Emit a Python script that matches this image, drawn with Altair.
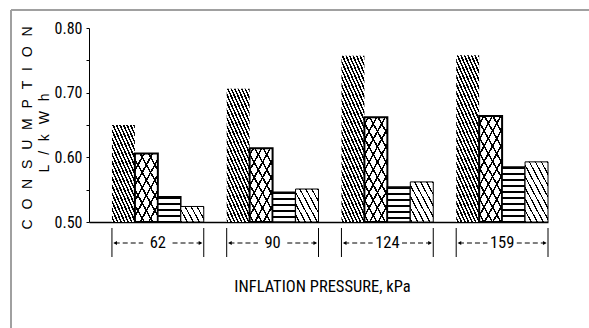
import json
import math

import altair as alt
import pandas as pd

# ---- data -------------------------------------------------------------
groups = ["62", "90", "124", "159"]          # inflation pressure, kPa
series = ["A", "B", "C", "D"]
series_a = [0.650, 0.706, 0.757, 0.758]
series_b = [0.606, 0.614, 0.662, 0.664]
series_c = [0.539, 0.546, 0.554, 0.585]
series_d = [0.524, 0.551, 0.562, 0.593]
y_ticks = [0.50, 0.55, 0.60, 0.65, 0.70, 0.75, 0.80]
y_labels = ["0.50", "0.60", "0.70", "0.80"]

# ---- geometry ---------------------------------------------------------
W, H = 459, 194
PAD = {"left": 89, "top": 28, "right": 41, "bottom": 106}
Y_MIN, Y_MAX = 0.50, 0.80
PAD_INNER, PAD_OUTER = 0.2, 0.1

NARROW = "'Liberation Sans Narrow', 'Roboto Condensed', 'DejaVu Sans Condensed', 'Liberation Sans', sans-serif"
SANS = "'Liberation Sans', sans-serif"

values = {"A": series_a, "B": series_b, "C": series_c, "D": series_d}
df = pd.DataFrame(
    [{"group": g, "series": s, "value": v}
     for s in series for g, v in zip(groups, values[s])]
)
gdf = pd.DataFrame({"group": groups})
one = pd.DataFrame({"k": [0]})

step = W / (len(groups) - PAD_INNER + 2 * PAD_OUTER)
bar_w = step * (1 - PAD_INNER) / len(series)


def bar_h(v):
    return (v - Y_MIN) / (Y_MAX - Y_MIN) * H


def hatch(w, h, angle, period, lw, paper):
    """Linear gradient (bounding-box units) that paints parallel stripes."""
    t = math.radians(angle)
    dx, dy = math.cos(t), math.sin(t)
    nx, ny = -dy, dx
    extent = w * abs(nx) + h * abs(ny)
    k = extent / (nx * nx * w * w + ny * ny * h * h)
    x1 = 0.0 if nx >= 0 else 1.0
    y1 = 0.0 if ny >= 0 else 1.0
    x2 = x1 + k * nx * w
    y2 = y1 + k * ny * h
    n = extent / period
    stops = []
    i = 0
    while i / n < 1:
        a = i / n
        b = min((i + lw / period) / n, 1.0)
        c = min((i + 1) / n, 1.0)
        stops += [
            {"offset": a, "color": "black"},
            {"offset": b, "color": "black"},
            {"offset": b, "color": paper},
            {"offset": c, "color": paper},
        ]
        i += 1
    return {"gradient": "linear", "x1": x1, "y1": y1, "x2": x2, "y2": y2,
            "stops": stops}


# hatch layers per series: (angle, period, line width)
styles = {
    "A": {"hatch": [(66, 3.2, 1.5)], "stroke": 0},
    "B": {"hatch": [(61, 7.4, 1.5), (119, 7.4, 1.5)], "stroke": 2},
    "C": {"hatch": [(0, 6.0, 2.0)], "stroke": 1.5},
    "D": {"hatch": [(62, 5.3, 1.2)], "stroke": 1},
}

# ---- shared encodings ---------------------------------------------------
x_scale = alt.Scale(paddingInner=PAD_INNER, paddingOuter=PAD_OUTER, align=1)
x_axis = alt.Axis(
    title="INFLATION PRESSURE, kPa", labels=False, ticks=False, grid=False,
    domain=True, domainColor="black", domainWidth=1.5,
    titleFont=NARROW, titleFontSize=16.5, titleFontWeight="normal",
    titleColor="black", titlePadding=56, titleX=233, titleAlign="center",
)
y_axis = alt.Axis(
    title=None, values=y_ticks, format=".2f",
    labelExpr="indexof(" + json.dumps(y_labels) + ", datum.label) >= 0 ? datum.label : ''",
    grid=False, tickSize=3, tickColor="black", domainColor="black",
    labelFont=NARROW, labelFontSize=16, labelColor="black", labelPadding=4,
)


def xenc(pos=None):
    kw = {"sort": groups, "scale": x_scale, "axis": x_axis}
    if pos is not None:
        kw["bandPosition"] = pos
    return alt.X("group:N", **kw)


yenc = alt.Y("value:Q", scale=alt.Scale(domain=[Y_MIN, Y_MAX], zero=False, nice=False),
             axis=y_axis)
xoff = alt.XOffset("series:N", sort=series,
                   scale=alt.Scale(paddingInner=0, paddingOuter=0))

# ---- hatched bars -------------------------------------------------------
layers = []
for s in series:
    st = styles[s]
    for g, v in zip(groups, values[s]):
        for li, (ang, per, lw) in enumerate(st["hatch"]):
            paper = "white" if li == 0 else "rgba(255,255,255,0)"
            mark = {"fill": hatch(bar_w, bar_h(v), ang, per, lw, paper)}
            if li == len(st["hatch"]) - 1 and st["stroke"]:
                mark.update(stroke="black", strokeWidth=st["stroke"])
            layers.append(
                alt.Chart(df)
                .transform_filter(f"datum.group === '{g}' && datum.series === '{s}'")
                .mark_bar(**mark)
                .encode(x=xenc(), xOffset=xoff, y=yenc, y2=alt.datum(Y_MIN))
            )

# ---- range brackets under each pressure ---------------------------------
BR_TOP, BR_BOT, BR_MID = 200, 229, 215
for pos in (0.0, 1.0):
    layers.append(
        alt.Chart(gdf).mark_rule(color="black", strokeWidth=1)
        .encode(x=xenc(pos), y=alt.value(BR_TOP), y2=alt.value(BR_BOT))
    )
for a, b in ((0.03, 0.34), (0.66, 0.97)):
    layers.append(
        alt.Chart(gdf).mark_rule(color="black", strokeWidth=1, strokeDash=[5, 3])
        .encode(x=xenc(a), x2=alt.X2("group:N", bandPosition=b), y=alt.value(BR_MID))
    )
for pos, shape in ((0.035, "triangle-left"), (0.965, "triangle-right")):
    layers.append(
        alt.Chart(gdf).mark_point(shape=shape, filled=True, color="black", size=18, opacity=1)
        .encode(x=xenc(pos), y=alt.value(BR_MID))
    )
layers.append(
    alt.Chart(gdf).mark_text(font=NARROW, fontSize=16.5, color="black", baseline="middle")
    .encode(x=xenc(0.5), y=alt.value(BR_MID), text="group:N")
)

# ---- y title (two letter-spaced lines) ----------------------------------
GAP = "\u2002\u2009"
for txt, xpx, ypx in (("CONSUMPTION", 28, 100), ("L/kWh", 45, 105)):
    layers.append(
        alt.Chart(one).mark_text(angle=270, font=SANS, fontSize=14, color="black",
                                 align="center", baseline="middle")
        .encode(x=alt.value(xpx - PAD["left"]), y=alt.value(ypx),
                text=alt.value(GAP.join(txt)))
    )

# ---- frame lines along the top and left edges ---------------------------
FX, FY = 11 - PAD["left"], 10 - PAD["top"]
layers.append(
    alt.Chart(one).mark_rule(color="#a0a0a0", strokeWidth=2)
    .encode(x=alt.value(FX), x2=alt.value(589 - PAD["left"]), y=alt.value(FY))
)
layers.append(
    alt.Chart(one).mark_rule(color="#a0a0a0", strokeWidth=2)
    .encode(x=alt.value(FX), y=alt.value(FY), y2=alt.value(328 - PAD["top"]))
)

chart = (
    alt.layer(*layers)
    .properties(width=W, height=H, padding=PAD,
                autosize=alt.AutoSizeParams(type="none"), background="white")
    .configure_view(stroke=None)
)

chart.save("out.html", embed_options={"renderer": "svg", "actions": False})
